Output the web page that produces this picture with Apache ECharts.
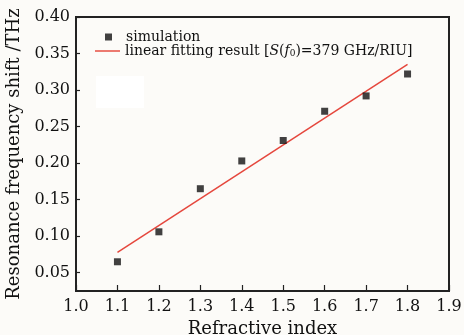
<!DOCTYPE html>
<html>
<head>
<meta charset="utf-8">
<script src="https://cdn.jsdelivr.net/npm/echarts@6/dist/echarts.min.js"></script>
<style>
  html, body { margin: 0; padding: 0; background: #fcfbf8; }
  #chart { width: 464px; height: 335px; }
</style>
</head>
<body>
<div id="chart"></div>
<script>
// refractive index vs resonance frequency shift (THz)
const refractiveIndex = [1.1, 1.2, 1.3, 1.4, 1.5, 1.6, 1.7, 1.8];
const freqShift = [0.065, 0.106, 0.165, 0.203, 0.231, 0.271, 0.292, 0.322];
// fitted line end points
const fitX = [1.1, 1.8];
const fitY = [0.078, 0.335];
const yTicks = [0.05, 0.10, 0.15, 0.20, 0.25, 0.30, 0.35, 0.40];

const serif = 'DejaVu Serif';
const axisColor = '#222';

const chart = echarts.init(document.getElementById('chart'));

const option = {
  backgroundColor: '#fcfbf8',
  animation: false,
  grid: {
    left: 76, right: 15, top: 17, bottom: 44,
    outerBoundsMode: 'none',
    containLabel: false,
    show: true,
    borderColor: axisColor,
    borderWidth: 2
  },
  graphic: [
    // white patch from the scan
    { type: 'rect', left: 96, top: 76, shape: { width: 48, height: 32 }, style: { fill: '#ffffff' }, z: 1 }
  ],
  legend: [
    {
      data: [{ name: 'simulation', icon: 'rect' }],
      left: 105, top: 30, padding: 0,
      itemWidth: 7, itemHeight: 7,
      itemStyle: { color: '#111' },
      textStyle: { fontFamily: serif, fontSize: 14, color: '#111', padding: [0, 0, 0, 9] }
    },
    {
      data: [{ name: 'fit', icon: 'path://M0,0L25,0L25,2L0,2Z' }],
      left: 95, top: 44, padding: 0,
      itemWidth: 25, itemHeight: 2,
      itemStyle: { color: '#ec7a70' },
      formatter: () => '{a|linear fitting result [}{i|S}{a|(}{i|f}{s|0}{a|)=379 GHz/RIU]}',
      textStyle: {
        fontFamily: serif, fontSize: 14, color: '#111',
        rich: {
          a: { fontFamily: serif, fontSize: 14, color: '#111' },
          i: { fontFamily: serif, fontSize: 14, fontStyle: 'italic', color: '#111' },
          s: { fontFamily: serif, fontSize: 9, color: '#111', verticalAlign: 'bottom', padding: [6, 0, 0, 0] }
        }
      }
    }
  ],
  xAxis: {
    type: 'value',
    min: 1.0, max: 1.9, interval: 0.1,
    name: 'Refractive index',
    nameLocation: 'middle',
    nameGap: 20,
    nameTextStyle: { fontFamily: serif, fontSize: 18, color: '#111' },
    axisLine: { lineStyle: { color: axisColor, width: 2 } },
    axisTick: { inside: true, length: 6, lineStyle: { color: axisColor, width: 1.2 } },
    axisLabel: {
      fontFamily: serif, fontSize: 16, color: '#111', margin: 8,
      formatter: v => v.toFixed(1)
    },
    splitLine: { show: false }
  },
  yAxis: {
    type: 'value',
    min: 0.025, max: 0.40,
    name: 'Resonance frequency shift /THz',
    nameLocation: 'middle',
    nameGap: 50,
    nameTextStyle: { fontFamily: serif, fontSize: 18, color: '#111' },
    axisLine: { show: true, lineStyle: { color: axisColor, width: 2 } },
    axisTick: { inside: true, length: 4, customValues: yTicks, lineStyle: { color: axisColor, width: 1.2 } },
    axisLabel: {
      fontFamily: serif, fontSize: 16, color: '#111', margin: 6,
      customValues: yTicks,
      formatter: v => v.toFixed(2)
    },
    splitLine: { show: false }
  },
  series: [
    {
      name: 'fit',
      type: 'line',
      data: fitX.map((x, i) => [x, fitY[i]]),
      symbol: 'none',
      lineStyle: { color: '#e5473d', width: 1.5 },
      itemStyle: { color: '#e5473d' },
      z: 2
    },
    {
      name: 'simulation',
      type: 'scatter',
      data: refractiveIndex.map((x, i) => [x, freqShift[i]]),
      symbol: 'rect',
      symbolSize: 7,
      itemStyle: { color: '#111' },
      z: 3
    }
  ]
};

chart.setOption(option);
</script>
</body>
</html>
